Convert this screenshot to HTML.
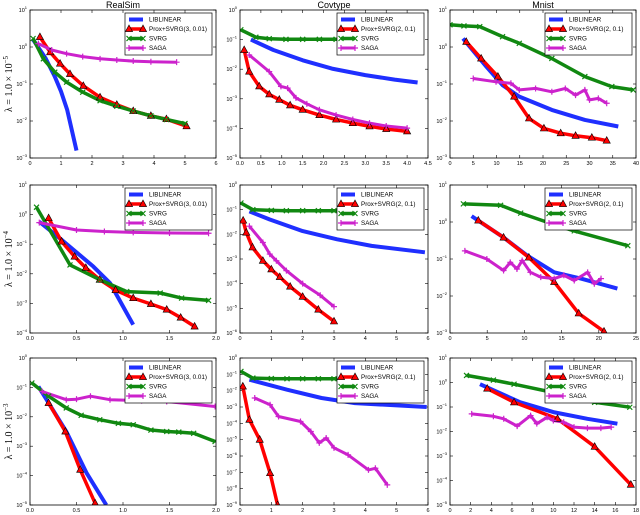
<!DOCTYPE html>
<html><head><meta charset="utf-8"><style>
html,body{margin:0;padding:0;background:#fff;}
svg{display:block;font-family:"Liberation Sans",sans-serif;}
</style></head><body>
<svg id="fig" width="640" height="515" viewBox="0 0 640 515" xmlns="http://www.w3.org/2000/svg"></svg>
<script>
// ---- data: x values and log10(y) values per panel ----
const r1c1_lib_x=[0.1,0.5,0.8,1.0,1.2,1.5], r1c1_lib_y=[0.2,-0.3,-0.8,-1.2,-1.7,-2.8];
const r1c1_prox_x=[0.32,0.65,0.97,1.29,1.72,2.26,2.8,3.33,3.9,4.4,5.05], r1c1_prox_y=[0.27,-0.14,-0.45,-0.73,-1.05,-1.36,-1.56,-1.73,-1.86,-1.95,-2.14];
const r1c1_svrg_x=[0.1,0.43,0.8,1.18,1.7,2.26,2.8,3.33,3.9,4.4,5.0], r1c1_svrg_y=[0.23,-0.32,-0.68,-0.95,-1.22,-1.45,-1.6,-1.73,-1.86,-1.96,-2.07];
const r1c1_saga_x=[0.27,0.7,1.18,1.7,2.26,2.8,3.33,3.9,4.73], r1c1_saga_y=[0.09,-0.08,-0.18,-0.26,-0.32,-0.35,-0.38,-0.4,-0.41];

const r1c2_lib_x=[0.26,0.8,1.5,2.2,3.0,3.7,4.25], r1c2_lib_y=[-1.0,-1.35,-1.7,-1.98,-2.2,-2.35,-2.45];
const r1c2_prox_x=[0.1,0.22,0.46,0.7,0.94,1.2,1.5,1.9,2.3,2.7,3.1,3.5,4.0], r1c2_prox_y=[-1.35,-2.08,-2.58,-2.85,-3.03,-3.22,-3.37,-3.55,-3.7,-3.82,-3.93,-4.02,-4.1];
const r1c2_svrg_x=[0.02,0.38,0.7,1.1,1.5,1.9,2.3,2.7,3.1,3.5,4.0], r1c2_svrg_y=[-0.67,-0.92,-0.97,-0.99,-0.99,-0.99,-0.99,-0.99,-0.99,-0.99,-0.99];
const r1c2_saga_x=[0.22,0.7,0.98,1.14,1.34,1.6,1.9,2.3,2.7,3.1,3.5,4.0], r1c2_saga_y=[-1.52,-2.08,-2.58,-2.64,-2.97,-3.17,-3.37,-3.55,-3.7,-3.82,-3.92,-3.99];

const r1c3_lib_x=[2.8,7.8,11.3,14.9,21.9,29,36.2], r1c3_lib_y=[0.23,-0.53,-1.03,-1.34,-1.7,-1.97,-2.15];
const r1c3_prox_x=[3.5,6.7,10.3,13.8,17,20.2,23.8,27,30.5,33.7], r1c3_prox_y=[0.14,-0.31,-0.8,-1.34,-1.93,-2.2,-2.33,-2.4,-2.45,-2.53];
const r1c3_svrg_x=[0,3,6.4,11.3,14.9,21.9,29,34.8,39.4], r1c3_svrg_y=[0.6,0.57,0.55,0.28,0.1,-0.31,-0.8,-1.07,-1.16];
const r1c3_saga_x=[5,9.9,13.1,14.9,18.4,21.9,24.8,27,29,30,31.9,33.7], r1c3_saga_y=[-0.85,-0.94,-0.98,-1.16,-1.12,-1.21,-1.12,-1.3,-1.16,-1.43,-1.39,-1.52];

const r2c1_lib_x=[0.1,0.32,0.68,0.86,1.11], r2c1_lib_y=[-0.24,-0.8,-1.75,-2.31,-3.72];
const r2c1_prox_x=[0.2,0.34,0.48,0.6,0.75,0.92,1.11,1.3,1.47,1.62,1.77], r2c1_prox_y=[-0.12,-0.91,-1.42,-1.8,-2.2,-2.55,-2.82,-3.02,-3.21,-3.48,-3.78];
const r2c1_svrg_x=[0.07,0.43,0.75,1.04,1.4,1.63,1.92], r2c1_svrg_y=[0.25,-1.7,-2.2,-2.6,-2.65,-2.82,-2.9];
const r2c1_saga_x=[0.1,0.5,0.8,1.11,1.5,1.92], r2c1_saga_y=[-0.27,-0.52,-0.57,-0.6,-0.62,-0.63];

const r2c2_lib_x=[0.3,0.95,2.0,3.1,4.2,5.9], r2c2_lib_y=[-1.07,-1.4,-1.87,-2.2,-2.47,-2.73];
const r2c2_prox_x=[0.1,0.2,0.4,0.73,1.0,1.27,1.6,2.0,2.5,3.0], r2c2_prox_y=[-1.44,-1.93,-2.53,-3.07,-3.42,-3.73,-4.12,-4.53,-5.05,-5.53];
const r2c2_svrg_x=[0.03,0.41,1.0,1.48,2.0,2.5,3.0,3.5], r2c2_svrg_y=[-0.73,-1.0,-1.03,-1.04,-1.04,-1.04,-1.04,-1.04];
const r2c2_saga_x=[0.3,0.73,0.95,1.16,1.48,2.0,2.56,3.0], r2c2_saga_y=[-1.67,-2.33,-2.8,-3.07,-3.47,-4.0,-4.47,-4.93];

const r2c3_lib_x=[2.9,7.2,10.4,14,17.6,22.5], r2c3_lib_y=[0.16,-0.42,-0.91,-1.36,-1.53,-1.8];
const r2c3_prox_x=[3.8,7.2,10.6,14,17.3,20.7], r2c3_prox_y=[0.04,-0.42,-0.96,-1.62,-2.47,-2.96];
const r2c3_svrg_x=[1.8,6.8,9.5,14,16.7,23.9], r2c3_svrg_y=[0.49,0.45,0.24,-0.07,-0.24,-0.64];
const r2c3_saga_x=[2,4.95,7.2,8.1,9,9.7,10.8,12.2,14,15.3,16.7,18.5,19.4,20.3], r2c3_saga_y=[-0.78,-1.0,-1.31,-1.09,-1.27,-1.04,-1.36,-1.49,-1.53,-1.44,-1.58,-1.36,-1.67,-1.53];

const r3c1_lib_x=[0.09,0.39,0.61,0.82], r3c1_lib_y=[-0.97,-2.5,-3.92,-5.0];
const r3c1_prox_x=[0.2,0.38,0.54,0.7], r3c1_prox_y=[-1.53,-2.5,-3.8,-4.94];
const r3c1_svrg_x=[0.02,0.2,0.39,0.55,0.75,0.95,1.11,1.3,1.47,1.6,1.76,1.99], r3c1_svrg_y=[-0.85,-1.3,-1.7,-1.95,-2.1,-2.22,-2.27,-2.45,-2.5,-2.52,-2.56,-2.84];
const r3c1_saga_x=[0.13,0.39,0.5,0.65,0.86,1.2,1.47,1.99], r3c1_saga_y=[-1.14,-1.42,-1.4,-1.3,-1.42,-1.45,-1.48,-1.65];

const r3c2_lib_x=[0.3,1.5,2.6,3.67,5.96], r3c2_lib_y=[-1.33,-1.94,-2.45,-2.76,-3.0];
const r3c2_prox_x=[0.09,0.3,0.63,0.96,1.2], r3c2_prox_y=[-1.74,-3.78,-5.0,-7.05,-9.0];
const r3c2_svrg_x=[0.03,0.41,1.0,1.5,2.0,2.5,3.0,3.5], r3c2_svrg_y=[-0.82,-1.23,-1.26,-1.27,-1.27,-1.27,-1.27,-1.27];
const r3c2_saga_x=[0.47,0.96,1.23,1.93,2.26,2.53,2.75,3.0,3.45,4.1,4.32,4.7], r3c2_saga_y=[-2.45,-2.86,-3.58,-3.89,-4.5,-5.2,-4.9,-5.5,-5.93,-6.85,-6.75,-7.77];

const r3c3_lib_x=[2.9,6.8,10,13.3,16.2], r3c3_lib_y=[-0.07,-0.81,-1.21,-1.48,-1.68];
const r3c3_prox_x=[3.6,6.2,10.4,14,17.5], r3c3_prox_y=[-0.25,-0.81,-1.48,-2.62,-4.17];
const r3c3_svrg_x=[1.6,4.2,6.2,10,14,17.4], r3c3_svrg_y=[0.29,0.1,-0.07,-0.41,-0.81,-1.01];
const r3c3_saga_x=[2.1,4.2,5.2,6.5,7.8,8.4,9.4,10,11,12,13.3,14.6,15.6], r3c3_saga_y=[-1.28,-1.38,-1.48,-1.78,-1.35,-1.68,-1.42,-1.55,-1.62,-1.82,-1.86,-1.86,-1.82];

// tick labels
const xticks_r1c1=["0","1","2","3","4","5","6"], xticks_r1c2=["0.0","0.5","1.0","1.5","2.0","2.5","3.0","3.5","4.0","4.5"], xticks_r1c3=["0","5","10","15","20","25","30","35","40"];
const xticks_r2c1=["0.0","0.5","1.0","1.5","2.0"], xticks_r2c2=["0","1","2","3","4","5","6"], xticks_r2c3=["0","5","10","15","20","25"];
const xticks_r3c1=["0.0","0.5","1.0","1.5","2.0"], xticks_r3c2=["0","1","2","3","4","5","6"], xticks_r3c3=["0","2","4","6","8","10","12","14","16","18"];
const yexp_r1c1=[1,0,-1,-2,-3], yexp_r1c2=[0,-1,-2,-3,-4,-5], yexp_r1c3=[1,0,-1,-2,-3];
const yexp_r2c1=[1,0,-1,-2,-3,-4], yexp_r2c2=[0,-1,-2,-3,-4,-5,-6], yexp_r2c3=[1,0,-1,-2,-3];
const yexp_r3c1=[0,-1,-2,-3,-4,-5], yexp_r3c2=[0,-1,-2,-3,-4,-5,-6,-7,-8,-9], yexp_r3c3=[1,0,-1,-2,-3,-4,-5];
const titles=["RealSim","Covtype","Mnist"];
const rowLabels=["−5","−4","−3"];
const proxLabels=["Prox+SVRG(3, 0.01)","Prox+SVRG(2, 0.1)","Prox+SVRG(2, 0.1)"];

const NS="http://www.w3.org/2000/svg";
const svg=document.getElementById('fig');
function mk(tag,attrs,parent){const e=document.createElementNS(NS,tag);for(const k in attrs)e.setAttribute(k,attrs[k]);(parent||svg).appendChild(e);return e;}

const cols=[[30,216],[240,428],[450,636]];
const rows=[[10,158],[185,333],[358,505]];
const panels=[
 [{xt:xticks_r1c1,ye:yexp_r1c1,s:[r1c1_lib_x,r1c1_lib_y,r1c1_prox_x,r1c1_prox_y,r1c1_svrg_x,r1c1_svrg_y,r1c1_saga_x,r1c1_saga_y]},
  {xt:xticks_r1c2,ye:yexp_r1c2,s:[r1c2_lib_x,r1c2_lib_y,r1c2_prox_x,r1c2_prox_y,r1c2_svrg_x,r1c2_svrg_y,r1c2_saga_x,r1c2_saga_y]},
  {xt:xticks_r1c3,ye:yexp_r1c3,s:[r1c3_lib_x,r1c3_lib_y,r1c3_prox_x,r1c3_prox_y,r1c3_svrg_x,r1c3_svrg_y,r1c3_saga_x,r1c3_saga_y]}],
 [{xt:xticks_r2c1,ye:yexp_r2c1,s:[r2c1_lib_x,r2c1_lib_y,r2c1_prox_x,r2c1_prox_y,r2c1_svrg_x,r2c1_svrg_y,r2c1_saga_x,r2c1_saga_y]},
  {xt:xticks_r2c2,ye:yexp_r2c2,s:[r2c2_lib_x,r2c2_lib_y,r2c2_prox_x,r2c2_prox_y,r2c2_svrg_x,r2c2_svrg_y,r2c2_saga_x,r2c2_saga_y]},
  {xt:xticks_r2c3,ye:yexp_r2c3,s:[r2c3_lib_x,r2c3_lib_y,r2c3_prox_x,r2c3_prox_y,r2c3_svrg_x,r2c3_svrg_y,r2c3_saga_x,r2c3_saga_y]}],
 [{xt:xticks_r3c1,ye:yexp_r3c1,s:[r3c1_lib_x,r3c1_lib_y,r3c1_prox_x,r3c1_prox_y,r3c1_svrg_x,r3c1_svrg_y,r3c1_saga_x,r3c1_saga_y]},
  {xt:xticks_r3c2,ye:yexp_r3c2,s:[r3c2_lib_x,r3c2_lib_y,r3c2_prox_x,r3c2_prox_y,r3c2_svrg_x,r3c2_svrg_y,r3c2_saga_x,r3c2_saga_y]},
  {xt:xticks_r3c3,ye:yexp_r3c3,s:[r3c3_lib_x,r3c3_lib_y,r3c3_prox_x,r3c3_prox_y,r3c3_svrg_x,r3c3_svrg_y,r3c3_saga_x,r3c3_saga_y]}]
];
const names=["liblinear","prox-svrg","svrg","saga"];
const colors=["#1f2fff","#ff0000","#118811","#cc22cc"];
const widths=[4,3.5,3.5,3];

function marker(kind,x,y,g){
  let m;
  if(kind===1){m=mk('polygon',{points:`${x},${y-4} ${x-3.6},${y+2.6} ${x+3.6},${y+2.6}`,fill:'#ff0000',stroke:'#000','stroke-width':0.6},g);}
  else if(kind===2){m=mk('path',{d:`M${x-2.5},${y-2.5}L${x+2.5},${y+2.5}M${x-2.5},${y+2.5}L${x+2.5},${y-2.5}`,stroke:'#118811','stroke-width':1.2},g);}
  else if(kind===3){m=mk('path',{d:`M${x-3},${y}L${x+3},${y}M${x},${y-3}L${x},${y+3}`,stroke:'#cc22cc','stroke-width':1.2},g);}
  if(m){
    
    
  }
}

for(let r=0;r<3;r++){
  for(let c=0;c<3;c++){
    const P=panels[r][c];
    const [x0,x1]=cols[c],[y0,y1]=rows[r];
    const g=mk('g',{});
    
    
    const xmax=parseFloat(P.xt[P.xt.length-1]);
    const ytop=P.ye[0], ybot=P.ye[P.ye.length-1];
    const sx=v=>x0+(v/xmax)*(x1-x0);
    const sy=v=>y0+(ytop-v)/(ytop-ybot)*(y1-y0);
    const clip='clip'+r+c;
    const cp=mk('clipPath',{id:clip},g);mk('rect',{x:x0,y:y0,width:x1-x0,height:y1-y0},cp);
    // ticks
    P.xt.forEach(t=>{
      const X=sx(parseFloat(t));
      mk('line',{x1:X,x2:X,y1:y1,y2:y1-3,stroke:'#000','stroke-width':0.6},g);
      mk('line',{x1:X,x2:X,y1:y0,y2:y0+3,stroke:'#000','stroke-width':0.6},g);
      const tx=mk('text',{x:X,y:y1+7,'font-size':5.5,'text-anchor':'middle',fill:'#000'},g);tx.textContent=t;
      
      
    });
    P.ye.forEach(e=>{
      const Y=sy(e);
      mk('line',{x1:x0,x2:x0+3,y1:Y,y2:Y,stroke:'#000','stroke-width':0.6},g);
      mk('line',{x1:x1,x2:x1-3,y1:Y,y2:Y,stroke:'#000','stroke-width':0.6},g);
      const tx=mk('text',{x:x0-3,y:Y+2,'font-size':5.5,'text-anchor':'end',fill:'#000'},g);
      tx.textContent='10';
      const sp=mk('tspan',{dy:-3,'font-size':4},tx);sp.textContent=e<0?('−'+(-e)):String(e);
      
      
    });
    // series
    const sg=mk('g',{'clip-path':`url(#${clip})`},g);
    for(let k=0;k<4;k++){
      const xs=P.s[k*2],ys=P.s[k*2+1];
      const pts=xs.map((v,i)=>sx(v).toFixed(1)+','+sy(ys[i]).toFixed(1)).join(' ');
      const pl=mk('polyline',{points:pts,fill:'none',stroke:colors[k],'stroke-width':widths[k],'stroke-linejoin':'round'},sg);
      
      
    }
    for(let k=1;k<4;k++){
      const xs=P.s[k*2],ys=P.s[k*2+1];
      xs.forEach((v,i)=>marker(k,sx(v),sy(ys[i]),sg));
    }
    // frame
    const fr=mk('rect',{x:x0,y:y0,width:x1-x0,height:y1-y0,fill:'none',stroke:'#000','stroke-width':0.8},g);
    
    
    // legend
    const lx=x1-91,ly=y0+3;
    const lg=mk('g',{},g);
    
    
    mk('rect',{x:lx,y:ly,width:87,height:42,fill:'#fff',stroke:'#000','stroke-width':0.7},lg);
    const labs=["LIBLINEAR",proxLabels[c],"SVRG","SAGA"];
    for(let k=0;k<4;k++){
      const yy=ly+6.5+k*9.5;
      const e=mk('g',{},lg);
      
      
      mk('line',{x1:lx+4,x2:lx+18,y1:yy,y2:yy,stroke:colors[k],'stroke-width':widths[k]},e);
      if(k>0){marker(k,lx+4,yy,e);marker(k,lx+18,yy,e);}
      const t=mk('text',{x:lx+24,y:yy+2.2,'font-size':6.3,fill:'#000'},e);t.textContent=labs[k];
    }
  }
  // row label
  const cy=(rows[r][0]+rows[r][1])/2;
  const rl=mk('text',{x:0,y:0,'font-size':10,'text-anchor':'middle','font-family':'Liberation Serif, serif',transform:`translate(12,${cy}) rotate(-90)`});
  
  
  rl.textContent='λ = 1.0 × 10';
  const sp=mk('tspan',{dy:-4,'font-size':7},rl);sp.textContent=rowLabels[r];
}
for(let c=0;c<3;c++){
  const t=mk('text',{x:(cols[c][0]+cols[c][1])/2,y:8,'font-size':9,'text-anchor':'middle'});
  
  
  t.textContent=titles[c];
}
</script>
</body></html>
